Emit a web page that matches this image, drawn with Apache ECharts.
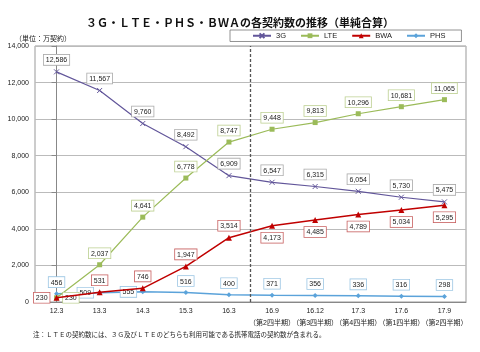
<!DOCTYPE html>
<html lang="ja">
<head>
  <meta charset="utf-8">
</head>
<body style="margin: 0">
<div id="container" style="width: 480px; height: 352px"></div>
<script type="text/javascript" src="https://cdn.jsdelivr.net/npm/echarts@6/dist/echarts.min.js"></script>
<script type="text/javascript">
  // data
  var periods = ['12.3', '13.3', '14.3', '15.3', '16.3',
    '16.9\n（第2四半期）', '16.12\n（第3四半期）', '17.3\n（第4四半期）',
    '17.6\n（第1四半期）', '17.9\n（第2四半期）'];
  var g3 = [12586, 11567, 9760, 8492, 6909, 6547, 6315, 6054, 5730, 5475];
  var lte = [230, 2037, 4641, 6778, 8747, 9448, 9813, 10296, 10681, 11065];
  var bwa = [230, 531, 746, 1947, 3514, 4173, 4485, 4789, 5034, 5295];
  var phs = [456, 509, 555, 516, 400, 371, 356, 336, 316, 298];
  // boundary between yearly and quarterly figures (between 16.3 and 16.9)
  var splitAt = 4.5;

  var font = '"Liberation Sans", "Noto Sans CJK JP", sans-serif';
  var fmt = function (v) { return v.toLocaleString('en-US'); };

  function boxLabel(border) {
    return {
      show: true,
      position: 'top',
      distance: 4,
      fontSize: 7,
      fontFamily: font,
      color: '#222',
      backgroundColor: '#fff',
      borderColor: border,
      borderWidth: 0.8,
      padding: [2, 2, 1, 2],
      formatter: function (p) { return fmt(p.value); }
    };
  }

  // attach per-point label placement
  function withPos(values, posFn) {
    return values.map(function (v, i) {
      var pos = posFn(i);
      return pos ? { value: v, label: { position: pos } } : v;
    });
  }

  var dom = document.getElementById('container');
  var myChart = echarts.init(dom, null, { renderer: 'canvas' });

  var option = {
    animation: false,
    textStyle: { fontFamily: font },
    title: [
      {
        text: '３Ｇ・ＬＴＥ・ＰＨＳ・ＢＷＡの各契約数の推移（単純合算）',
        left: 'center', top: 13,
        textStyle: { fontSize: 11, fontWeight: 'bold', color: '#111', fontFamily: font }
      },
      {
        text: '（単位：万契約）',
        left: 10, top: 31,
        textStyle: { fontSize: 7, fontWeight: 'normal', color: '#222', fontFamily: font }
      },
      {
        text: '注：ＬＴＥの契約数には、３Ｇ及びＬＴＥのどちらも利用可能である携帯電話の契約数が含まれる。',
        left: 28, top: 327,
        textStyle: { fontSize: 6.5, fontWeight: 'normal', color: '#222', fontFamily: font }
      }
    ],
    legend: {
      left: 230, top: 30, width: 227,
      padding: [2, 16, 2, 22],
      itemGap: 14,
      itemWidth: 18, itemHeight: 6,
      borderColor: '#777', borderWidth: 0.8,
      textStyle: { fontSize: 7.5, color: '#222', fontFamily: font },
      data: ['3G', 'LTE', 'BWA', 'PHS']
    },
    grid: {
      left: 35, right: 14, top: 46, bottom: 50,
      show: true, borderColor: '#999', borderWidth: 1
    },
    xAxis: [
      {
        type: 'category',
        data: periods,
        axisLine: { lineStyle: { color: '#888' } },
        axisTick: { lineStyle: { color: '#888' }, length: 3 },
        axisLabel: { fontSize: 7, color: '#222', lineHeight: 12, margin: 3, interval: 0 }
      },
      {
        type: 'value', show: false,
        min: -0.5, max: periods.length - 0.5
      }
    ],
    yAxis: {
      type: 'value',
      min: 0, max: 14000, interval: 2000,
      axisLine: { show: true, lineStyle: { color: '#888' } },
      axisLabel: { fontSize: 7, color: '#222', margin: 6, formatter: fmt },
      splitLine: { lineStyle: { color: '#bbb' } }
    },
    series: [
      {
        name: 'divider', type: 'line', xAxisIndex: 1, data: [],
        markLine: {
          silent: true, symbol: 'none', label: { show: false },
          lineStyle: { color: '#555', type: [3, 2], width: 1.3 },
          data: [{ xAxis: splitAt }]
        }
      },
      {
        name: '3G', type: 'line', data: g3,
        symbol: 'path://M0,0L10,10M10,0L0,10', symbolSize: 5,
        color: '#62569a',
        lineStyle: { width: 1.2 },
        itemStyle: { borderColor: '#62569a', borderWidth: 1 },
        label: boxLabel('#aaa'),
        z: 3
      },
      {
        name: 'LTE', type: 'line',
        data: withPos(lte, function (i) { return i === 0 ? 'right' : null; }),
        symbol: 'rect', symbolSize: 5,
        color: '#9bbb59',
        lineStyle: { width: 1.2 },
        label: boxLabel('#bccf90'),
        z: 3
      },
      {
        name: 'BWA', type: 'line',
        data: withPos(bwa, function (i) { return i === 0 ? 'left' : (i >= 5 ? 'bottom' : null); }),
        symbol: 'triangle', symbolSize: 6,
        color: '#c00000',
        lineStyle: { width: 1.5 },
        label: boxLabel('#c86060'),
        z: 4
      },
      {
        name: 'PHS', type: 'line',
        data: withPos(phs, function (i) { return (i === 1 || i === 2) ? 'left' : null; }),
        symbol: 'diamond', symbolSize: 5,
        color: '#5ba3da',
        lineStyle: { width: 1.5 },
        label: boxLabel('#9cc6e4'),
        z: 2
      }
    ]
  };

  myChart.setOption(option);
  window.addEventListener('resize', myChart.resize);
</script>
</body>
</html>
